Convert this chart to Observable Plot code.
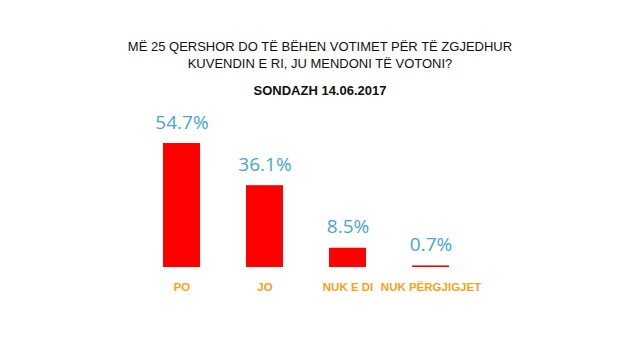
<!DOCTYPE html>
<html>
<head>
<meta charset="utf-8">
<script src="https://cdn.jsdelivr.net/npm/d3@7"></script>
<script src="https://cdn.jsdelivr.net/npm/@observablehq/plot@0.6"></script>
<style>
  html, body { margin: 0; padding: 0; background: #fff; }
  #wrap { position: relative; width: 640px; height: 355px; overflow: hidden; }
  .title { font-family: "Liberation Sans", Arial, sans-serif; font-size: 13px; line-height: 17px; color: #111; text-align: center; padding-top: 38px; }
  .subtitle { font-family: "Liberation Sans", Arial, sans-serif; font-size: 13px; font-weight: bold; line-height: 17px; color: #111; text-align: center; margin-top: 10px; }
  #chart { position: relative; }
</style>
</head>
<body>
<div id="wrap">
  <div class="title">MË 25 QERSHOR DO TË BËHEN VOTIMET PËR TË ZGJEDHUR<br>KUVENDIN E RI, JU MENDONI TË VOTONI?</div>
  <div class="subtitle">SONDAZH 14.06.2017</div>
  <div id="chart"></div>
</div>
<script>
const categories = ["PO", "JO", "NUK E DI", "NUK PËRGJIGJET"];
const values = [54.7, 36.1, 8.5, 0.7];
const labels = ["54.7%", "36.1%", "8.5%", "0.7%"];

const data = categories.map((c, i) => ({cat: c, value: values[i], label: labels[i]}));

const chart = Plot.plot({
  width: 640,
  height: 254,
  marginTop: 32,
  marginBottom: 86,
  marginLeft: 117.5,
  marginRight: 144.5,
  style: {background: "transparent", fontFamily: "Liberation Sans, Arial, sans-serif"},
  x: {domain: categories, padding: 0.554, label: null},
  y: {domain: [0, 60], axis: null},
  marks: [
    Plot.barY(data, {x: "cat", y: "value", fill: "#ff0000"}),
    Plot.text(data, {x: "cat", y: "value", text: "label", dy: -21, fill: "#4aa3d6", fontSize: 19, fontFamily: "Open Sans, sans-serif"}),
    Plot.axisX({tickSize: 0, tickPadding: 15, fill: "#f7a21b", fontSize: 11.5, fontWeight: "bold", label: null})
  ]
});
document.getElementById("chart").appendChild(chart);
</script>
</body>
</html>
